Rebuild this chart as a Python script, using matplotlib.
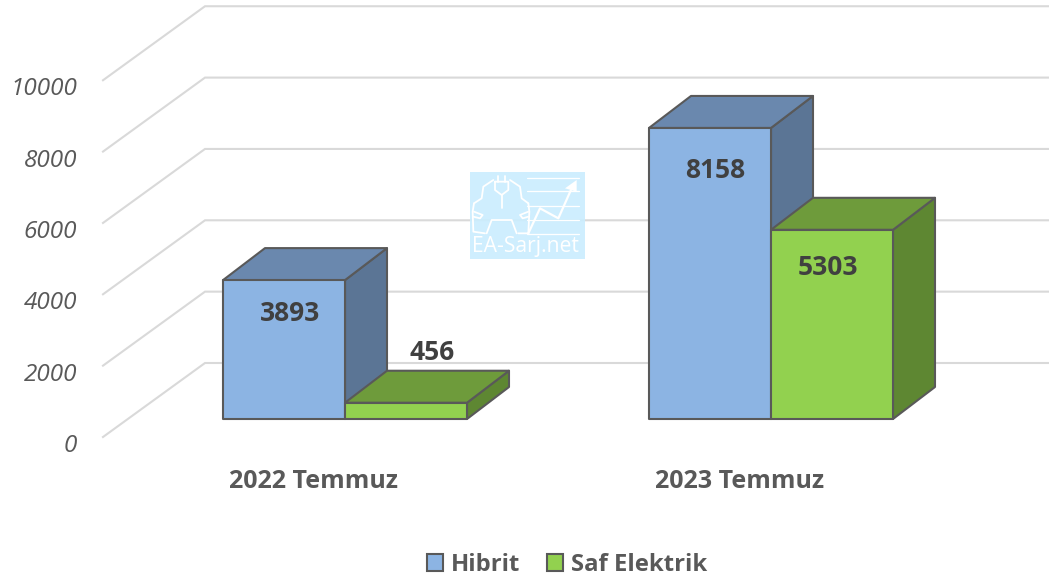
import matplotlib
matplotlib.use('Agg')
import matplotlib.pyplot as plt
from matplotlib.patches import Polygon, Rectangle

plt.rcParams['font.family'] = ['Open Sans', 'DejaVu Sans']

categories = ['2022 Temmuz', '2023 Temmuz']
series_names = ['Hibrit', 'Saf Elektrik']
hibrit = [3893, 8158]
saf_elektrik = [456, 5303]
y_ticks = [0, 2000, 4000, 6000, 8000, 10000]

W, H = 1049, 578
PX_X = 1 / 426  # category units per pixel
PX_Y = 28.03  # value units per pixel
GREY = '#595959'

FRONT = ['#8CB4E3', '#92D14F']
TOP = ['#6A88AE', '#6E9B3B']
SIDE = ['#5B7595', '#5E8732']
BAR_W = 122 * PX_X
DX, DY = 42 * PX_X, 32 * PX_Y

# label offset from the bar's front centre and top edge, in pixels
LABEL_OFF = [[(6, 31), (26, -52)], [(5, 41), (-4, 36)]]

fig = plt.figure(figsize=(W / 100, H / 100), dpi=100)
ax = fig.add_axes([0, 0, 1, 1])
ax.set_xlim(-345 * PX_X, (W - 345) * PX_X)
ax.set_ylim(-(H - 419) * PX_Y, 419 * PX_Y)
ax.axis('off')


def xp(px):
    return (px - 345) * PX_X


# walls: back line plus diagonal on the left
for v in y_ticks:
    base = v + 56 * PX_Y
    ax.plot([xp(103), xp(205), xp(W)], [base - 74 * PX_Y, base, base],
            color='#D9D9D9', lw=1.5, zorder=1, solid_joinstyle='miter')
    ax.text(xp(77), base - 83 * PX_Y, str(v), ha='right', va='center', style='italic',
            fontsize=17.5, color=GREY)


def box(x0, val, i):
    x1 = x0 + BAR_W
    kw = dict(edgecolor=GREY, lw=1.5, joinstyle='round', zorder=3)
    ax.add_patch(Polygon([(x1, 0), (x1 + DX, DY), (x1 + DX, val + DY), (x1, val)], facecolor=SIDE[i], **kw))
    ax.add_patch(Polygon([(x0, val), (x0 + DX, val + DY), (x1 + DX, val + DY), (x1, val)], facecolor=TOP[i], **kw))
    ax.add_patch(Rectangle((x0, 0), BAR_W, val, facecolor=FRONT[i], **kw))


for c in range(len(categories)):
    for i, vals in enumerate([hibrit, saf_elektrik]):
        x0 = c - BAR_W + i * BAR_W
        box(x0, vals[c], i)
        ox, oy = LABEL_OFF[c][i]
        ax.text(x0 + BAR_W / 2 + ox * PX_X, vals[c] - (oy + 2) * PX_Y, str(vals[c]), ha='center', va='center',
                fontsize=19, fontweight='bold', color='#404040', zorder=5)
    ax.text(c - 31 * PX_X, -63 * PX_Y, categories[c], ha='center', va='center',
            fontsize=18, fontweight='bold', color=GREY)

handles = [Rectangle((0, 0), 1, 1, facecolor=FRONT[i], edgecolor=GREY, lw=1.5) for i in range(2)]
ax.legend(handles, series_names, loc='center', bbox_to_anchor=(567 / W, 1 - 565 / H), frameon=False, ncol=2,
          prop={'size': 17.2, 'weight': 'bold'}, labelcolor=GREY, handlelength=0.68, handleheight=0.68,
          handletextpad=0.33, columnspacing=1.1, borderpad=0)

# watermark, drawn on a pixel overlay
wm = fig.add_axes([0, 0, 1, 1])
wm.set_xlim(0, W)
wm.set_ylim(H, 0)
wm.axis('off')
wm.patch.set_alpha(0)
wm.add_patch(Rectangle((470, 172), 115, 87, facecolor='#CBEDFE', edgecolor='none', alpha=0.92, zorder=6))


def zx(z):
    return 460 + z / 3


def zy(z):
    return 165 + z / 3


def wline(xs, ys, lw=1.3):
    wm.plot([zx(a) for a in xs], [zy(b) for b in ys], color='white', lw=lw, zorder=7,
            solid_capstyle='round', solid_joinstyle='round')


for yy in [38, 78, 122, 165, 208]:
    wline([200, 358], [yy, yy], lw=0.9)
wline([205, 240, 295, 335], [205, 130, 160, 70], lw=1.6)
wm.add_patch(Polygon([(zx(315), zy(70)), (zx(350), zy(45)), (zx(350), zy(80))], facecolor='white', edgecolor='none', zorder=7))
# car outline and plug
wline([42, 65, 70, 100], [115, 100, 65, 45])
wline([205, 185, 180, 150], [115, 100, 65, 45])
wline([42, 38, 40, 75], [115, 140, 200, 205])
wline([205, 208, 205, 175], [115, 140, 205, 205])
wline([80, 95, 155, 170], [205, 165, 165, 205])
wline([105, 105, 125, 145, 145, 105], [50, 75, 90, 75, 50, 50])
wline([115, 115], [32, 50])
wline([135, 135], [32, 50])
wline([125, 125], [90, 130])
wline([42, 68, 60, 40], [140, 150, 160, 155])
wline([205, 180, 188, 205], [140, 150, 160, 155])
wm.text(zx(36), zy(244), 'EA-Sarj.net', color='white', fontsize=15.2, ha='left', va='center', zorder=7)

fig.savefig('out.png', dpi=100)
